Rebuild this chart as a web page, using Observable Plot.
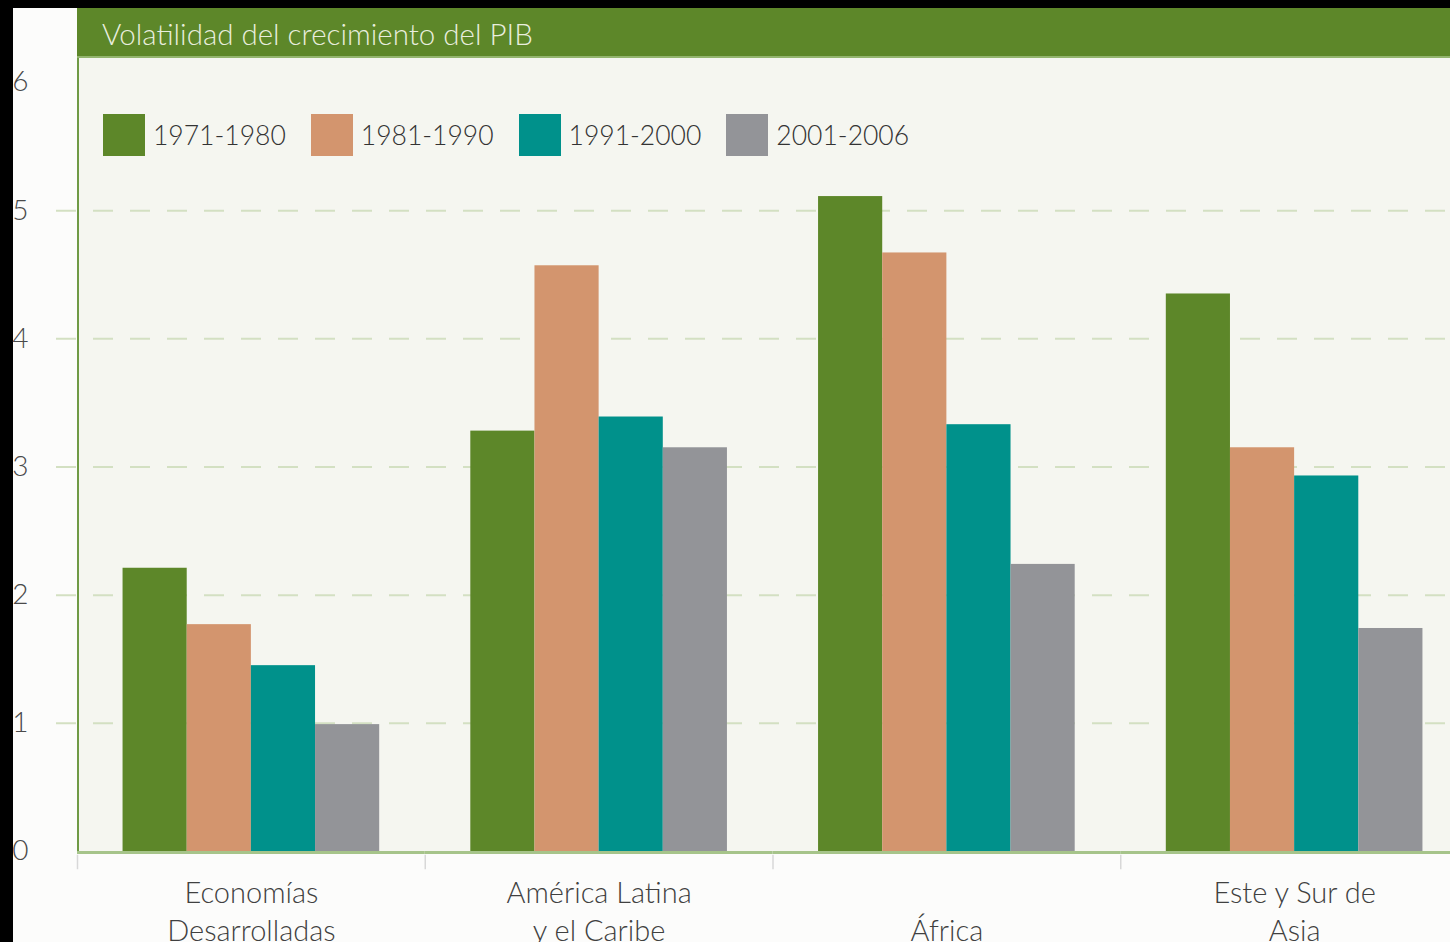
<!DOCTYPE html>
<html><head><meta charset="utf-8">
<script src="https://cdn.jsdelivr.net/npm/d3@7"></script>
<script src="https://cdn.jsdelivr.net/npm/@observablehq/plot@0.6"></script>
<style>
html,body{margin:0;padding:0;background:#000;overflow:hidden;}
#wrap{position:relative;width:1450px;height:942px;overflow:hidden;background:#000;font-family:Lato,"Open Sans",sans-serif;}
#white{position:absolute;left:13px;top:8px;right:0;bottom:0;background:#fcfcfb;}
#panel{position:absolute;left:77px;top:57px;width:1373px;height:794px;background:#f5f6f0;border-left:2px solid #6f9a45;box-sizing:border-box;}
#header{position:absolute;left:77px;top:8px;width:1373px;height:50px;background:#5d8729;border-bottom:2px solid #93b56e;box-sizing:border-box;color:#e9eede;font-size:29.5px;font-weight:300;padding-left:25px;line-height:52px;white-space:nowrap;}
#legend{position:absolute;left:103px;top:114px;display:flex;align-items:center;}
.item{display:flex;align-items:center;margin-right:25px;}
.sw{width:42px;height:42px;margin-right:8px;}
.lab{font-size:26.5px;font-weight:300;color:#333;}
.layer{position:absolute;left:0;top:0;}
.layer svg{max-width:none !important;}
</style>
</head><body>
<div id="wrap">
  <div id="white"></div>
  <div id="panel"></div>
  <div id="header"></div>
  <div id="grid" class="layer"></div>
  <div id="bars" class="layer"></div>
  <div id="legend"></div>
</div>
<script>
const title = "Volatilidad del crecimiento del PIB";
const regions = ["Economías\nDesarrolladas", "América Latina\ny el Caribe", "\nÁfrica", "Este y Sur de\nAsia"];
const periods = ["1971-1980", "1981-1990", "1991-2000", "2001-2006"];
const colors = ["#5d8729", "#d3956e", "#00918b", "#939498"];
const v1971_1980 = [2.21, 3.28, 5.11, 4.35];
const v1981_1990 = [1.77, 4.57, 4.67, 3.15];
const v1991_2000 = [1.45, 3.39, 3.33, 2.93];
const v2001_2006 = [0.99, 3.15, 2.24, 1.74];
const yTicks = [0, 1, 2, 3, 4, 5, 6];

const series = [v1971_1980, v1981_1990, v1991_2000, v2001_2006];
const data = [];
regions.forEach((r, i) => periods.forEach((p, j) => data.push({region: r, period: p, value: series[j][i]})));

document.getElementById("header").textContent = title;

const legend = document.getElementById("legend");
periods.forEach((p, j) => {
  const it = document.createElement("div"); it.className = "item";
  const sw = document.createElement("div"); sw.className = "sw"; sw.style.background = colors[j];
  const lb = document.createElement("span"); lb.className = "lab"; lb.textContent = p;
  it.appendChild(sw); it.appendChild(lb); legend.appendChild(it);
});

const font = {fontFamily: "Lato, 'Open Sans', sans-serif", fontWeight: 300, background: "transparent", overflow: "visible", maxWidth: "none"};

const grid = Plot.plot({
  width: 1450, height: 942,
  marginLeft: 56, marginRight: 0, marginTop: 82, marginBottom: 91,
  style: font,
  y: {domain: [0, 6]},
  marks: [
    Plot.gridY(yTicks.filter(t => t > 0 && t < 6), {stroke: "#d3e0c2", strokeOpacity: 1, strokeWidth: 2, strokeDasharray: "20,17"}),
    Plot.axisY(yTicks, {tickSize: 0, tickPadding: 28, fontSize: 28, fill: "#4a4a4a", label: null, tickFormat: d => String(d)})
  ]
});
document.getElementById("grid").appendChild(grid);

const bars = Plot.plot({
  width: 1468, height: 942,
  marginLeft: 77, marginRight: 0, marginTop: 82, marginBottom: 91,
  style: font,
  fx: {domain: regions, padding: 0, round: false, label: null},
  x: {domain: periods, paddingInner: 0, paddingOuter: 0.71, round: false, axis: null},
  y: {domain: [0, 6], axis: null},
  color: {domain: periods, range: colors},
  marks: [
    Plot.barY(data, {fx: "region", x: "period", y: "value", fill: "period", insetLeft: 0, insetRight: 0}),
    Plot.ruleY([0], {stroke: "#a6c48a", strokeWidth: 3, dy: 1}),
    Plot.frame({anchor: "left", stroke: "#d8d8d8", strokeWidth: 1.5, insetTop: 773, insetBottom: -17}),
    Plot.axisFx({anchor: "bottom", tickSize: 0, tickPadding: 25, fontSize: 29, fill: "#404040", lineHeight: 1.3, label: null})
  ]
});
document.getElementById("bars").appendChild(bars);
</script>
</body></html>
